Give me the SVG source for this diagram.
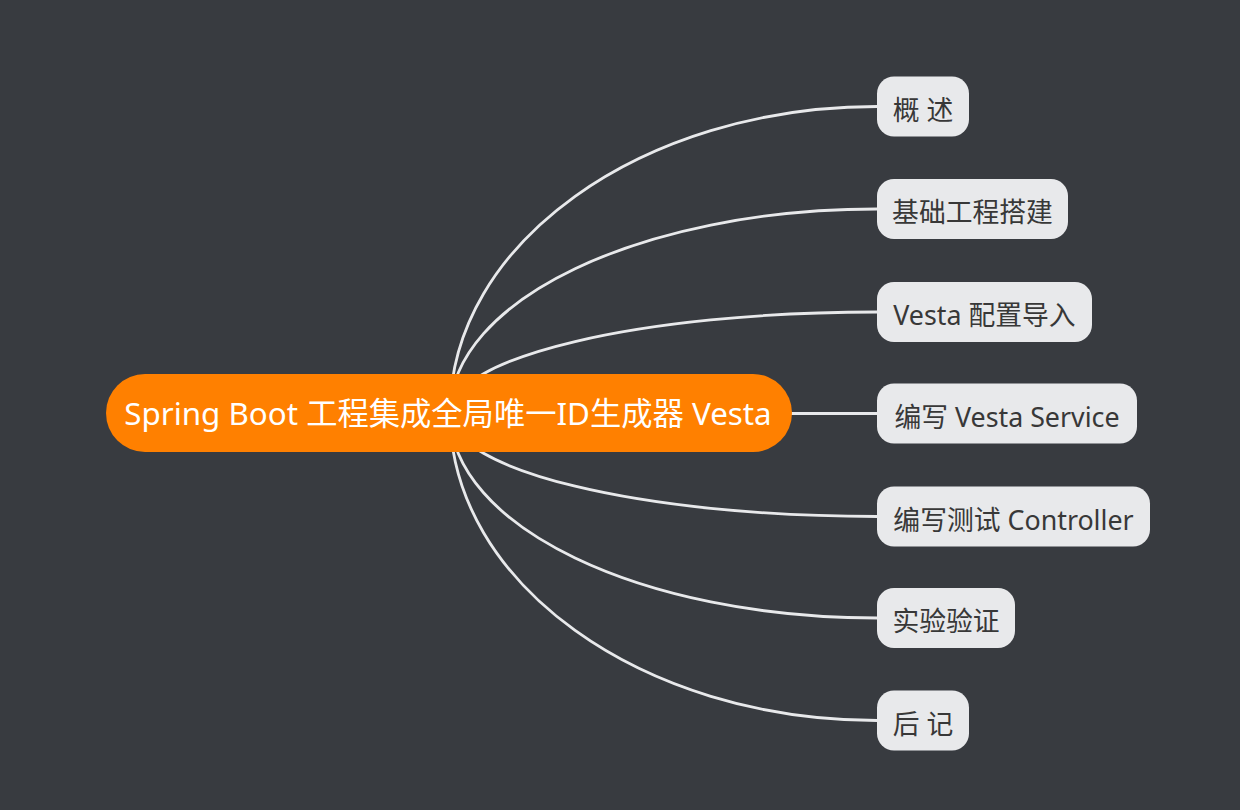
<svg xmlns="http://www.w3.org/2000/svg" width="1240" height="810" viewBox="0 0 1240 810">
<style>
.bg{fill:#383b40}
.conn{fill:none;stroke:#e8e9eb;stroke-width:2.8}
.root{fill:#ff8000}
.roottext{fill:#ffffff;font-family:"Noto Sans","Noto Sans CJK SC",sans-serif;font-size:31.3px;text-anchor:middle}
.child{fill:#e8e9eb}
.childtext{fill:#383838;font-family:"Noto Sans","Noto Sans CJK SC",sans-serif;font-size:26.8px;text-anchor:middle}
</style>
<rect class="bg" x="0" y="0" width="1240" height="810"/>
<g id="connectors">
<path class="conn" d="M450 413 C450 243.7 641.2 106.5 877 106.5"/>
<path class="conn" d="M450 413 C450 300.3 641.2 209 877 209"/>
<path class="conn" d="M450 413 C450 357.2 641.2 312 877 312"/>
<path class="conn" d="M780 413.5 L877 413.5"/>
<path class="conn" d="M450 413 C450 470.2 641.2 516.5 877 516.5"/>
<path class="conn" d="M450 413 C450 526.2 641.2 618 877 618"/>
<path class="conn" d="M450 413 C450 582.8 641.2 720.5 877 720.5"/>
</g>
<g id="root">
<rect class="root" x="106" y="374" width="686" height="78" rx="39"/>
<text class="roottext" x="448" y="425">Spring Boot 工程集成全局唯一ID生成器 Vesta</text>
</g>
<g id="n1">
<rect class="child" x="877" y="76.5" width="92" height="60" rx="17"/>
<text class="childtext" x="923" y="119.5">概 述</text>
</g>
<g id="n2">
<rect class="child" x="877" y="179" width="191" height="60" rx="17"/>
<text class="childtext" x="972.5" y="222">基础工程搭建</text>
</g>
<g id="n3">
<rect class="child" x="877" y="282" width="215" height="60" rx="17"/>
<text class="childtext" x="984.5" y="325">Vesta 配置导入</text>
</g>
<g id="n4">
<rect class="child" x="877" y="383.5" width="260" height="60" rx="17"/>
<text class="childtext" x="1007" y="426.5">编写 Vesta Service</text>
</g>
<g id="n5">
<rect class="child" x="877" y="486.5" width="273" height="60" rx="17"/>
<text class="childtext" x="1013.5" y="529.5">编写测试 Controller</text>
</g>
<g id="n6">
<rect class="child" x="877" y="588" width="138" height="60" rx="17"/>
<text class="childtext" x="946" y="631">实验验证</text>
</g>
<g id="n7">
<rect class="child" x="877" y="690.5" width="92" height="60" rx="17"/>
<text class="childtext" x="923" y="733.5">后 记</text>
</g>
</svg>
